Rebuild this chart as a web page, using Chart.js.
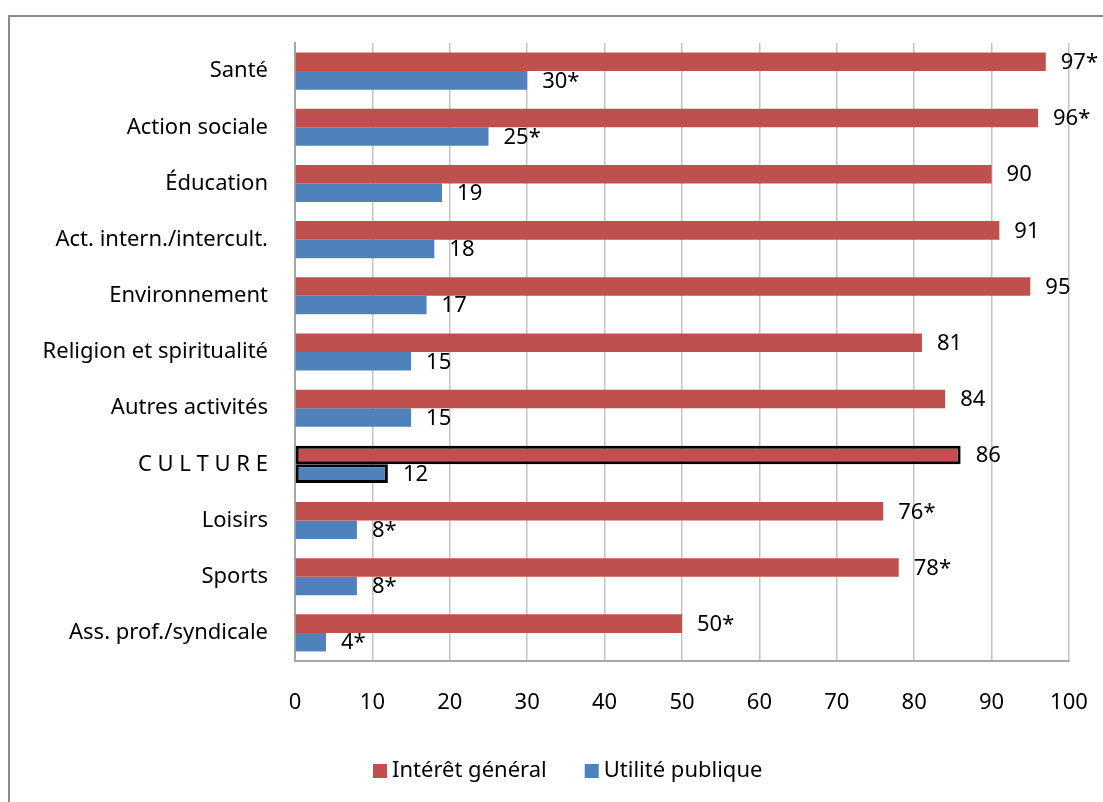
<!DOCTYPE html>
<html lang="fr">
<head>
<meta charset="utf-8">
<title>Intérêt général / Utilité publique</title>
<script src="https://cdn.jsdelivr.net/npm/chart.js@4.4.0/dist/chart.umd.min.js"></script>
<style>
  html, body { margin: 0; padding: 0; background: #fff; overflow: hidden; }
  #wrap { position: relative; width: 1103px; height: 802px; }
  #frame {
    position: absolute; left: 8px; top: 15px;
    width: 1200px; height: 900px;
    border: 2px solid #8a8a8a;
  }
  #chart { position: absolute; left: 0; top: 0; }
</style>
</head>
<body>
<div id="wrap">
  <div id="frame"></div>
  <canvas id="chart" width="1103" height="802"></canvas>
</div>
<script>
// ── Données ──
var categories = [
  'Santé', 'Action sociale', 'Éducation', 'Act. intern./intercult.',
  'Environnement', 'Religion et spiritualité', 'Autres activités',
  'C U L T U R E', 'Loisirs', 'Sports', 'Ass. prof./syndicale'
];
var interetGeneral = [97, 96, 90, 91, 95, 81, 84, 86, 76, 78, 50];
var interetStar    = [true, true, false, false, false, false, false, false, true, true, true];
var utilitePublique = [30, 25, 19, 18, 17, 15, 15, 12, 8, 8, 4];
var utiliteStar     = [true, true, false, false, false, false, false, false, true, true, true];
var xTicks = [0, 10, 20, 30, 40, 50, 60, 70, 80, 90, 100];

var RED  = '#C0504D';
var BLUE = '#4F81BD';
var FONT = '"Noto Sans", "Open Sans", sans-serif';
var FSIZE = 22;
var HIGHLIGHT = 'C U L T U R E';

function _borderWidths() {
  return categories.map(function(c) { return c === HIGHLIGHT ? 3 : 0; });
}

// étiquettes de valeur à droite des barres
var valueLabels = {
  id: 'valueLabels',
  afterDatasetsDraw: function(chart) {
    var ctx = chart.ctx;
    var stars = [interetStar, utiliteStar];
    ctx.save();
    ctx.font = FSIZE + 'px ' + FONT;
    ctx.fillStyle = '#000';
    ctx.textAlign = 'left';
    ctx.textBaseline = 'middle';
    chart.data.datasets.forEach(function(ds, di) {
      chart.getDatasetMeta(di).data.forEach(function(bar, i) {
        var txt = ds.data[i] + (stars[di][i] ? '*' : '');
        ctx.fillText(txt, bar.x + 15, bar.y + 1);
      });
    });
    ctx.restore();
  }
};

// légende façon Excel : petit carré collé au texte
var boxLegend = {
  id: 'boxLegend',
  afterDraw: function(chart) {
    var ctx = chart.ctx;
    var x = 373, y = 771;
    ctx.save();
    ctx.font = FSIZE + 'px ' + FONT;
    ctx.textAlign = 'left';
    ctx.textBaseline = 'middle';
    chart.data.datasets.forEach(function(ds) {
      ctx.fillStyle = ds.backgroundColor;
      ctx.fillRect(x, y - 7, 14, 14);
      ctx.fillStyle = '#000';
      ctx.fillText(ds.label, x + 19, y);
      x += 19 + ctx.measureText(ds.label).width + 38;
    });
    ctx.restore();
  }
};

new Chart(document.getElementById('chart'), {
  type: 'bar',
  data: {
    labels: categories,
    datasets: [
      {
        label: 'Intérêt général',
        data: interetGeneral,
        backgroundColor: RED,
        borderColor: '#000',
        borderWidth: _borderWidths(),
        borderSkipped: false
      },
      {
        label: 'Utilité publique',
        data: utilitePublique,
        backgroundColor: BLUE,
        borderColor: '#000',
        borderWidth: _borderWidths(),
        borderSkipped: false
      }
    ]
  },
  options: {
    indexAxis: 'y',
    responsive: false,
    animation: false,
    categoryPercentage: 0.66,
    barPercentage: 1,
    layout: { padding: { top: 43, right: 34, bottom: 0, left: 0 } },
    plugins: {
      legend: { display: false },
      tooltip: { enabled: false }
    },
    scales: {
      x: {
        min: 0, max: 100,
        afterBuildTicks: function(scale) {
          scale.ticks = xTicks.map(function(v) { return { value: v }; });
        },
        afterFit: function(scale) {
          scale.height = 141;
          scale.paddingLeft = 0;
          scale.paddingRight = 0;
        },
        grid: { color: '#c4c4c4', lineWidth: 1.5, drawTicks: false },
        border: { color: '#a6a6a6', width: 2 },
        ticks: { color: '#000', padding: 29, font: { family: FONT, size: FSIZE } }
      },
      y: {
        afterFit: function(scale) { scale.width = 295; },
        grid: { display: false, drawTicks: false },
        border: { color: '#a6a6a6', width: 2 },
        ticks: { color: '#000', padding: 27, font: { family: FONT, size: FSIZE } }
      }
    }
  },
  plugins: [valueLabels, boxLegend]
});
</script>
</body>
</html>
